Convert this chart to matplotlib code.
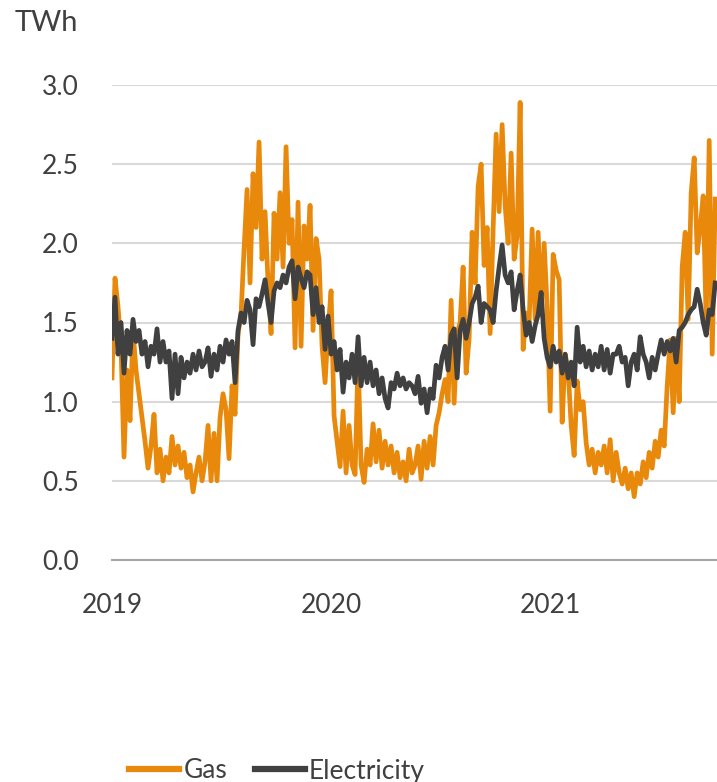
import matplotlib
matplotlib.use("Agg")
import matplotlib.pyplot as plt
import pandas as pd

plt.rcParams['font.family'] = ['Lato', 'DejaVu Sans']

# 5-day samples from 2019-01-01
gas = [
    1.15, 1.78, 1.60, 1.35, 0.65, 1.20, 0.88, 1.45, 1.20, 1.05,
    0.90, 0.75, 0.58, 0.72, 0.92, 0.55, 0.70, 0.50, 0.65, 0.55,
    0.78, 0.60, 0.72, 0.58, 0.68, 0.52, 0.60, 0.43, 0.55, 0.65,
    0.50, 0.62, 0.85, 0.50, 0.80, 0.50, 0.90, 1.05, 0.95, 0.64,
    1.10, 0.92, 1.43, 1.55, 1.96, 2.34, 1.75, 2.44, 2.10, 2.64,
    1.90, 2.20, 1.75, 1.43, 2.19, 1.90, 2.32, 1.85, 2.61, 2.00,
    2.15, 1.34, 2.26, 1.35, 2.11, 1.90, 2.24, 1.45, 2.03, 1.90,
    1.35, 1.12, 1.45, 1.70, 0.91, 0.75, 0.59, 0.94, 0.55, 0.85,
    0.60, 0.54, 1.27, 0.60, 0.49, 0.70, 0.60, 0.86, 0.62, 0.82,
    0.58, 0.75, 0.60, 0.72, 0.55, 0.68, 0.52, 0.62, 0.50, 0.70,
    0.55, 0.60, 0.72, 0.51, 0.75, 0.58, 0.78, 0.60, 0.85, 0.93,
    1.05, 1.14, 1.00, 1.64, 0.99, 1.43, 1.50, 1.85, 1.18, 1.40,
    2.07, 1.75, 2.36, 2.50, 1.86, 2.10, 1.43, 2.09, 2.69, 2.20,
    2.75, 2.24, 2.00, 2.57, 1.90, 2.05, 2.89, 1.33, 1.56, 1.50,
    2.09, 1.52, 2.07, 1.55, 2.00, 1.60, 0.94, 1.93, 1.83, 1.77,
    0.87, 1.30, 1.20, 0.85, 0.66, 1.13, 0.95, 1.00, 0.74, 0.60,
    0.70, 0.55, 0.68, 0.60, 0.72, 0.55, 0.76, 0.50, 0.68, 0.55,
    0.48, 0.58, 0.45, 0.55, 0.40, 0.55, 0.48, 0.62, 0.52, 0.68,
    0.58, 0.75, 0.65, 0.82, 0.72, 1.10, 1.39, 0.93, 1.40, 1.00,
    1.85, 2.07, 1.52, 2.32, 2.54, 1.94, 2.10, 2.30, 1.50, 2.65,
    1.30, 2.28,
]

electricity = [
    1.40, 1.66, 1.30, 1.50, 1.18, 1.45, 1.30, 1.52, 1.38, 1.45,
    1.30, 1.38, 1.22, 1.35, 1.30, 1.46, 1.25, 1.38, 1.25, 1.32,
    1.02, 1.30, 1.05, 1.28, 1.15, 1.25, 1.18, 1.30, 1.20, 1.32,
    1.22, 1.25, 1.34, 1.16, 1.30, 1.20, 1.35, 1.25, 1.39, 1.30,
    1.38, 1.12, 1.45, 1.56, 1.50, 1.64, 1.58, 1.36, 1.65, 1.60,
    1.68, 1.77, 1.62, 1.50, 1.70, 1.75, 1.72, 1.80, 1.75, 1.85,
    1.89, 1.65, 1.85, 1.78, 1.72, 1.82, 1.80, 1.55, 1.72, 1.50,
    1.60, 1.33, 1.54, 1.30, 1.38, 1.20, 1.33, 1.06, 1.25, 1.15,
    1.30, 1.12, 1.41, 1.10, 1.28, 1.12, 1.25, 1.10, 1.20, 1.05,
    1.15, 1.02, 0.96, 1.12, 1.08, 1.18, 1.10, 1.15, 1.08, 1.12,
    1.10, 1.05, 1.16, 0.99, 1.08, 0.93, 1.08, 1.02, 1.23, 1.15,
    1.28, 1.35, 1.20, 1.42, 1.46, 1.15, 1.45, 1.52, 1.40, 1.50,
    1.62, 1.66, 1.73, 1.50, 1.62, 1.60, 1.58, 1.50, 1.70, 1.85,
    1.99, 1.80, 1.75, 1.82, 1.58, 1.70, 1.80, 1.58, 1.42, 1.50,
    1.38, 1.48, 1.55, 1.69, 1.40, 1.28, 1.22, 1.35, 1.25, 1.32,
    1.18, 1.30, 1.15, 1.25, 1.10, 1.47, 1.25, 1.35, 1.22, 1.32,
    1.20, 1.30, 1.22, 1.35, 1.20, 1.33, 1.18, 1.30, 1.30, 1.35,
    1.25, 1.28, 1.10, 1.25, 1.30, 1.20, 1.41, 1.30, 1.25, 1.15,
    1.28, 1.20, 1.30, 1.39, 1.30, 1.38, 1.32, 1.40, 1.25, 1.45,
    1.47, 1.50, 1.55, 1.58, 1.60, 1.71, 1.62, 1.50, 1.42, 1.58,
    1.55, 1.75,
]

dates = pd.date_range("2019-01-01", periods=len(gas), freq="5D")
year_ticks = ["2019", "2020", "2021"]
y_ticks = [0.0, 0.5, 1.0, 1.5, 2.0, 2.5, 3.0]

W, H = 717, 782
fig = plt.figure(figsize=(W / 100, H / 100), dpi=100)
ax = fig.add_axes([112 / W, (H - 560) / H, (W - 112) / W, (560 - 85) / H])

text_col = "#404040"
ax.plot(dates, gas, color="#E8890C", lw=3.4, solid_joinstyle="round", label="Gas", zorder=3)
ax.plot(dates, electricity, color="#404040", lw=3.4, solid_joinstyle="round", label="Electricity", zorder=4)

ax.set_ylim(0, 3.0)
ax.set_xlim(pd.Timestamp("2019-01-01"), pd.Timestamp("2019-01-01") + pd.Timedelta(days=1008))
ax.set_yticks(y_ticks)
ax.set_yticklabels([f"{v:.1f}" for v in y_ticks])
ax.set_xticks([pd.Timestamp(f"{y}-01-01") for y in year_ticks])
ax.set_xticklabels(year_ticks)

ax.grid(axis="y", color="#D9D9D9", lw=1.5)
ax.set_axisbelow(True)
for s in ["top", "right", "left"]:
    ax.spines[s].set_visible(False)
ax.spines["bottom"].set_color("#A6A6A6")
ax.spines["bottom"].set_linewidth(1.5)
ax.tick_params(axis="both", length=0, labelsize=19, colors=text_col)
ax.tick_params(axis="y", pad=24)
ax.tick_params(axis="x", pad=24)

fig.text(15 / W, 1 - 23 / H, "TWh", fontsize=21, color=text_col, ha="left", va="center")

leg = fig.legend(loc="center", bbox_to_anchor=(277 / W, 1 - 771 / H), ncol=2, frameon=False,
                 fontsize=19, handlelength=1.9, handletextpad=0.15, columnspacing=1.05,
                 labelcolor=text_col)
for line in leg.get_lines():
    line.set_linewidth(4.5)

fig.savefig("out.png", dpi=100)
